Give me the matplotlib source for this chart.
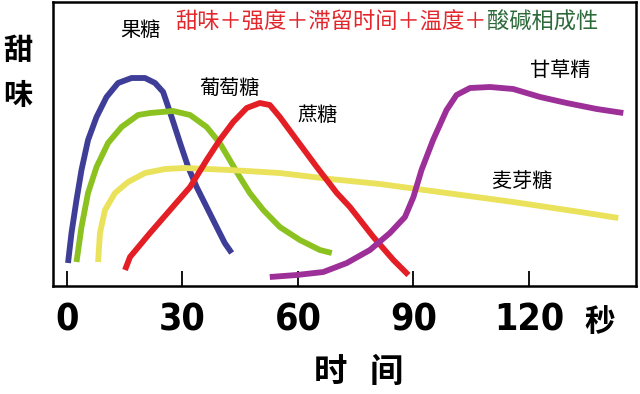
import matplotlib
matplotlib.use('Agg')
import matplotlib.pyplot as plt

plt.rcParams['font.family'] = ['Noto Sans CJK SC', 'DejaVu Sans']

# time [s] / relative sweetness
fructose_t = [0.3, 1.2, 2.5, 3.8, 5.5, 7.7, 10.3, 13.3, 16.8, 20.3, 22.9, 25.0, 27.2, 29.4,
              31.5, 33.7, 36.3, 38.9, 41.0, 42.8]
fructose_s = [23, 53, 86, 116, 146, 169, 189, 203, 208, 208, 203, 194, 169, 143,
              119, 99, 79, 59, 43, 33]

glucose_t = [2.5, 3.8, 5.5, 7.7, 10.7, 14.2, 18.5, 21.6, 27.6, 32.0, 36.3, 39.7, 42.3,
             44.9, 47.5, 51.0, 55.3, 60.5, 65.7, 68.8]
glucose_s = [24, 59, 93, 119, 143, 159, 171, 173, 175, 171, 159, 143, 126,
             109, 93, 76, 59, 46, 36, 33]

maltose_t = [8.1, 8.6, 9.9, 12.5, 15.9, 20.3, 25.5, 30.7, 42.3, 55.3, 68.3, 81.3, 98.6,
             115.9, 133.3, 143.2]
maltose_s = [24, 53, 76, 93, 104, 113, 117, 118, 116, 113, 107, 102, 93,
             84, 74, 68]

sucrose_t = [15.1, 16.4, 21.6, 26.8, 32.0, 36.3, 39.7, 43.2, 46.7, 50.1, 52.7, 55.3,
             59.7, 64.9, 70.1, 73.5, 79.6, 84.8, 88.7]
sucrose_s = [16, 29, 53, 76, 99, 126, 146, 164, 178, 183, 181, 169,
             146, 119, 93, 79, 49, 26, 11]

licorice_t = [52.7, 59.7, 66.6, 72.7, 78.7, 83.9, 87.8, 90.0, 92.1, 95.1, 98.6, 101.2,
              104.7, 109.9, 115.9, 122.9, 129.8, 137.6, 144.5]
licorice_s = [9, 11, 14, 23, 36, 53, 69, 89, 116, 146, 176, 191,
              198, 199, 197, 189, 183, 177, 173]

names = ['果糖', '葡萄糖', '麦芽糖', '蔗糖', '甘草精']
label_xy = [(19, 256), (42.3, 198), (118.2, 105), (65.2, 171), (128, 216)]
colors = ['#3e3e98', '#8cc21f', '#eae25a', '#e31e24', '#9c2f98']
series = [(fructose_t, fructose_s), (glucose_t, glucose_s), (maltose_t, maltose_s),
          (sucrose_t, sucrose_s), (licorice_t, licorice_s)]

ticks = [0, 30, 60, 90, 120]

fig = plt.figure(figsize=(6.4, 3.94), dpi=100)
ax = fig.add_axes([53 / 640, 1 - 286 / 394, 583 / 640, 284 / 394])

for (t, s), name, c, pos in zip(series, names, colors, label_xy):
    ax.plot(t, s, color=c, lw=4.2, solid_capstyle='butt', solid_joinstyle='round')
    ax.text(pos[0], pos[1], name, fontsize=14.5, ha='center', va='center', color='black')

ax.set_xlim(-3.6, 147.8)
ax.set_ylim(0, 284)
ax.set_yticks([])
ax.set_xticks(ticks)
ax.set_xticklabels([str(v) for v in ticks], fontsize=27, fontweight='bold',
                   fontstretch='condensed', family='DejaVu Sans')
ax.tick_params(axis='x', direction='in', length=11, width=1.3, pad=12)
for sp in ax.spines.values():
    sp.set_linewidth(1.8)

# axis texts
fig.text(600 / 640, 1 - 322 / 394, '秒', fontsize=22, fontweight='bold', ha='center', va='center')
fig.text(330 / 640, 1 - 372 / 394, '时', fontsize=24, fontweight='bold', ha='center', va='center')
fig.text(386 / 640, 1 - 372 / 394, '间', fontsize=24, fontweight='bold', ha='center', va='center')
fig.text(18 / 640, 1 - 50 / 394, '甜', fontsize=21, fontweight='bold', ha='center', va='center')
fig.text(18 / 640, 1 - 95 / 394, '味', fontsize=21, fontweight='bold', ha='center', va='center')

# title in two colours
t1 = fig.text(175 / 640, 1 - 22 / 394, '甜味＋强度＋滞留时间＋温度＋', fontsize=16,
              color='#e3262b', ha='left', va='center')
fig.canvas.draw()
bb = t1.get_window_extent()
fig.text(bb.x1 / 640, 1 - 22 / 394, '酸碱相成性', fontsize=16, color='#2d6a3a',
         ha='left', va='center')

fig.savefig('out.png', dpi=100)
